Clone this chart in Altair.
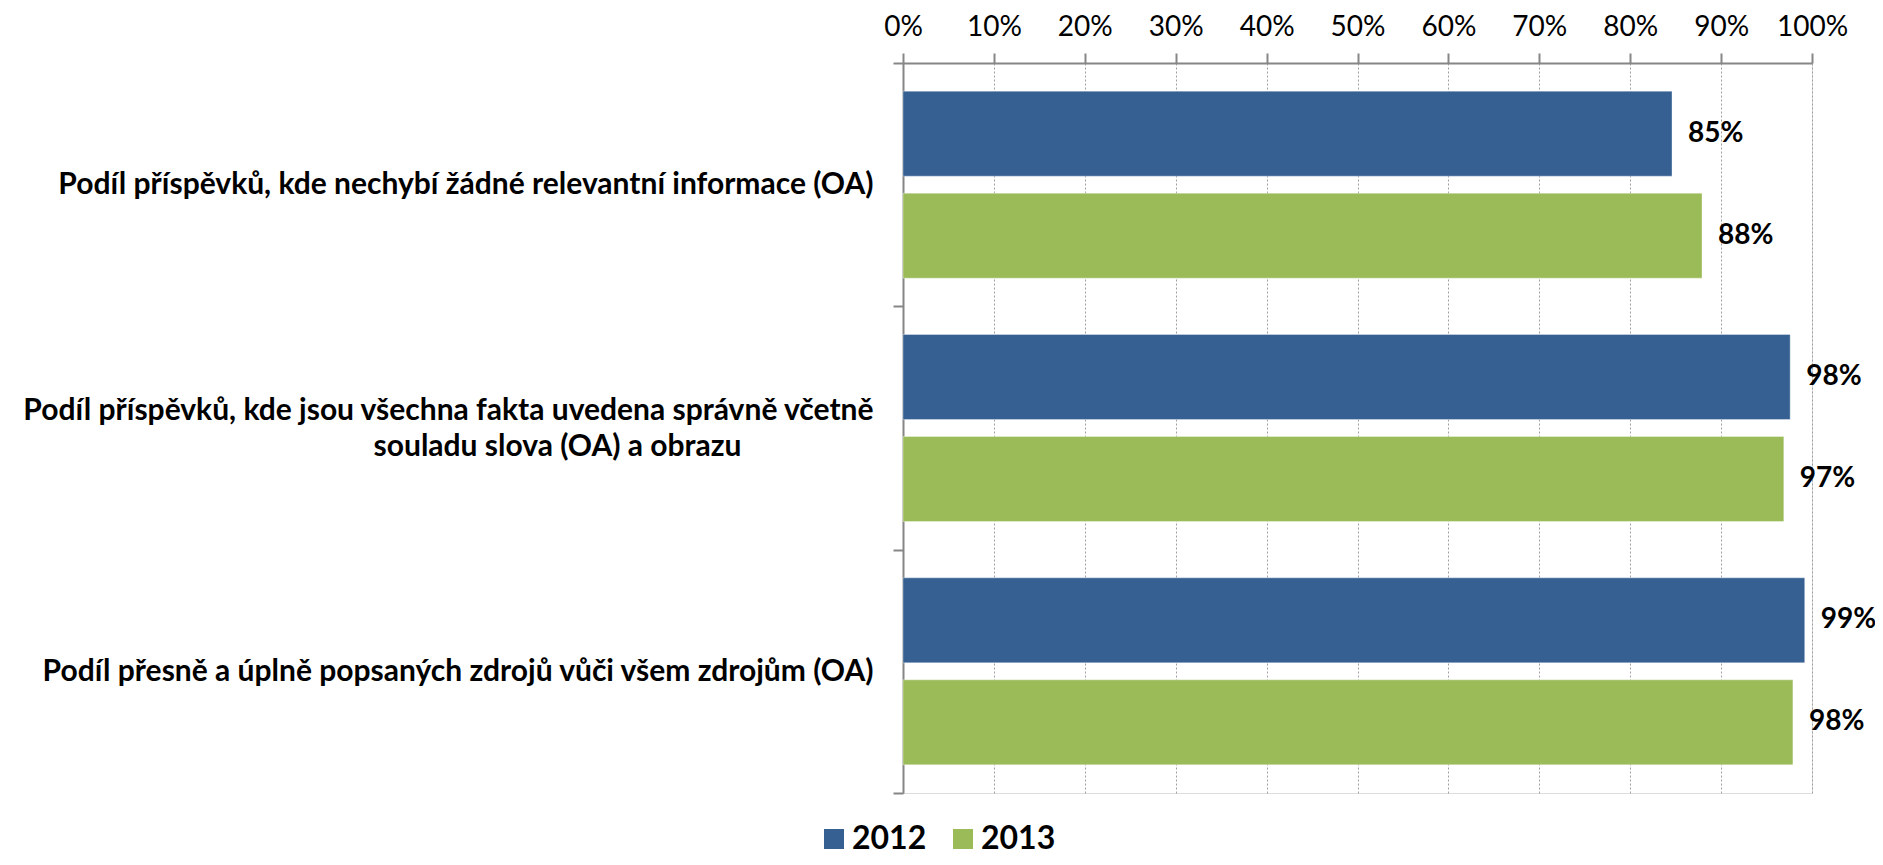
import altair as alt
import pandas as pd

categories = [
    "Podíl příspěvků, kde nechybí žádné relevantní informace (OA)",
    "Podíl příspěvků, kde jsou  všechna fakta uvedena správně včetně\nsouladu slova (OA) a obrazu" + "\u2800" * 6,
    "Podíl přesně a úplně popsaných zdrojů vůči všem zdrojům (OA)",
]
years = ["2012", "2013"]
values_2012 = [0.846, 0.976, 0.992]
values_2013 = [0.879, 0.969, 0.979]
colors = ["#366092", "#9BBB59"]

rows = []
for c, v in zip(categories, values_2012):
    rows.append({"category": c, "year": "2012", "value": v})
for c, v in zip(categories, values_2013):
    rows.append({"category": c, "year": "2013", "value": v})
df = pd.DataFrame(rows)

FONT = "Lato"
BLANK = "\u2800"

# single-line labels sit on the 2nd half-line, two-line labels span half-lines 0 and 2
label_expr = (
    "indexof(datum.label, '\\n') >= 0 "
    "? split(replace(datum.label, '\\n', '\\n" + BLANK + "\\n'), '\\n') "
    ": ['" + BLANK + "', datum.label]"
)

y_enc = alt.Y(
    "category:N",
    sort=categories,
    title=None,
    scale=alt.Scale(paddingInner=0, paddingOuter=0),
    axis=alt.Axis(
        labelExpr=label_expr,
        labelFont=FONT,
        labelFontWeight="bold",
        labelFontSize=30,
        labelColor="#000000",
        labelPadding=20,
        labelLineHeight=18,
        labelOffset=-18,
        labelAlign="right",
        labelLimit=0,
        tickBand="extent",
        tickSize=10,
        tickColor="#868686",
        tickWidth=2,
        domainColor="#868686",
        domainWidth=2,
        grid=False,
    ),
)
yoff = alt.YOffset(
    "year:N",
    sort=years,
    scale=alt.Scale(paddingInner=0.1667, paddingOuter=0.276),
)
x_enc = alt.X(
    "value:Q",
    title=None,
    scale=alt.Scale(domain=[0, 1], nice=False),
    axis=alt.Axis(
        orient="top",
        format=".0%",
        values=[i / 10 for i in range(11)],
        labelFont=FONT,
        labelFontSize=28,
        labelColor="#000000",
        labelPadding=12,
        labelFlush=False,
        labelOverlap=False,
        tickSize=10,
        tickColor="#868686",
        tickWidth=2,
        domainColor="#868686",
        domainWidth=2,
        grid=True,
        gridColor="#A0A0A0",
        gridDash=[2, 2],
        gridWidth=1,
    ),
)

bars = alt.Chart(df).mark_bar(stroke="#ffffff", strokeOpacity=0.35, strokeWidth=1).encode(
    x=x_enc,
    y=y_enc,
    yOffset=yoff,
    color=alt.Color(
        "year:N",
        scale=alt.Scale(domain=years, range=colors),
        legend=alt.Legend(
            title=None,
            orient="none",
            direction="horizontal",
            legendX=-85,
            legendY=760,
            symbolType="square",
            symbolSize=400,
            symbolStrokeWidth=0,
            labelFont=FONT,
            labelFontWeight="bold",
            labelFontSize=32,
            labelColor="#000000",
            labelOffset=2,
            columnPadding=20,
        ),
    ),
)

labels = alt.Chart(df).mark_text(
    align="left", baseline="middle", dx=16, font=FONT, fontWeight="bold", fontSize=28, color="#000000"
).encode(
    x="value:Q",
    y=alt.Y("category:N", sort=categories),
    yOffset=alt.YOffset("year:N", sort=years),
    text=alt.Text("value:Q", format=".0%"),
)

chart = (
    alt.layer(bars, labels)
    .properties(
        width=909,
        height=730,
        autosize=alt.AutoSizeParams(type="none"),
        padding={"left": 895, "top": 55, "right": 63, "bottom": 64},
    )
    .configure_view(stroke="#868686", strokeWidth=2)
    .configure(background="#ffffff")
)

chart.save("out.html", embed_options={"renderer": "svg", "actions": False})
